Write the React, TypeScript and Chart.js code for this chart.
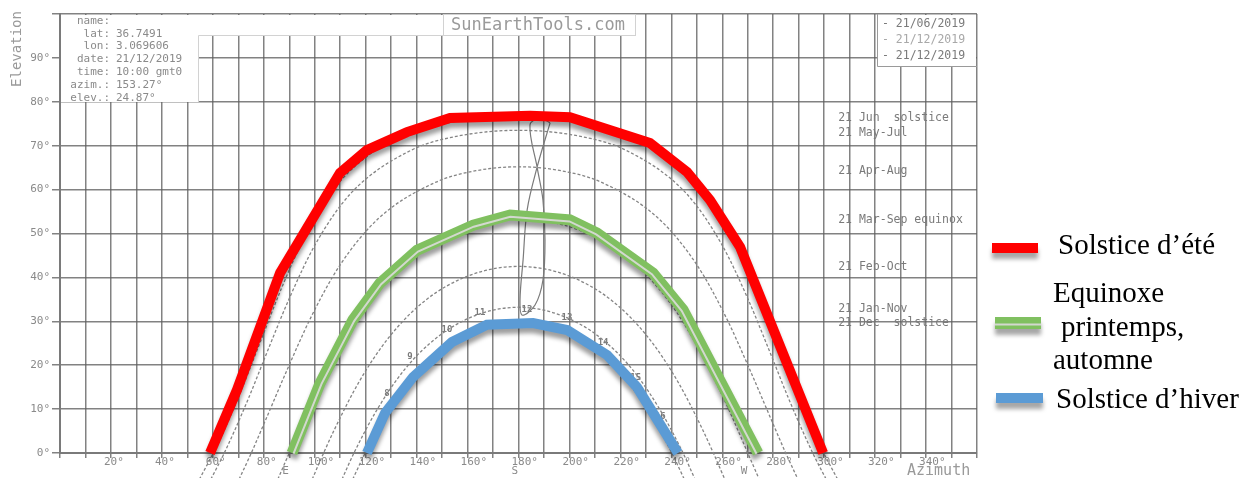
import React, { useEffect, useRef } from 'react';
import { Chart, registerables } from 'chart.js';
Chart.register(...registerables);

const W = 1251;
const H = 478;

// ---- coloured overlay paths (azimuth °, elevation °) ----
const summerAz = [58.9, 69.5, 86.4, 109.9, 120.5, 136.2, 153.1, 184.5, 200.2, 231.6, 246.2, 255.2, 267.0, 299.6];
const summerEl = [0, 14.4, 41.0, 63.8, 69.0, 73.1, 76.3, 76.8, 76.5, 70.6, 64.0, 57.6, 46.9, 0];
const equinoxAz = [91.1, 102.1, 115.0, 125.6, 140.2, 162.2, 176.7, 200.2, 210.8, 232.8, 244.6, 274.0];
const equinoxEl = [0, 15.9, 30.3, 38.7, 46.2, 51.9, 54.2, 53.1, 50.1, 41.0, 32.6, 0];
const winterAz = [120.5, 127.6, 138.6, 153.9, 167.6, 185.7, 199.1, 214.8, 226.5, 242.6];
const winterEl = [0, 9.1, 17.3, 25.3, 29.2, 29.6, 28.0, 22.3, 15.0, 0];

// ---- underlying sun paths of the 21st of each month pair ----
const dayJun: [number, number][] = [[54.7, -6], [60.2, 0], [62.5, 2.7], [70.8, 13.8], [78.7, 25.4], [86.8, 37.3], [96.1, 49.3], [108.8, 61.0], [118.2, 66.5], [131.8, 71.5], [152.1, 75.2], [180, 76.7], [207.9, 75.2], [228.2, 71.5], [241.8, 66.5], [251.2, 61.0], [263.9, 49.3], [273.2, 37.3], [281.3, 25.4], [289.2, 13.8], [297.5, 2.7], [299.8, 0], [305.3, -6]];
const dayMayJul: [number, number][] = [[59.2, -6], [64.5, 0], [73.6, 11.9], [81.8, 23.7], [90.3, 35.6], [100.3, 47.6], [114.1, 59.1], [137.6, 68.9], [156.3, 72.2], [180, 73.5], [203.7, 72.2], [222.4, 68.9], [245.9, 59.1], [259.7, 47.6], [269.7, 35.6], [278.2, 23.7], [286.4, 11.9], [295.5, 0], [300.8, -6]];
const dayAprAug: [number, number][] = [[70.3, -6], [75.1, 0], [80.4, 7.1], [89.2, 19.0], [98.6, 31.0], [109.8, 42.7], [125.0, 53.4], [147.6, 61.7], [163.3, 64.3], [180, 65.2], [196.7, 64.3], [212.4, 61.7], [235.0, 53.4], [250.2, 42.7], [261.4, 31.0], [270.8, 19.0], [279.6, 7.1], [284.9, 0], [289.7, -6]];
const dayEquinox: [number, number][] = [[85.5, -6], [90, 0], [99.1, 12.0], [109.1, 23.6], [120.9, 34.5], [136.0, 43.9], [155.9, 50.7], [180, 53.3], [204.1, 50.7], [224.0, 43.9], [239.1, 34.5], [250.9, 23.6], [260.9, 12.0], [270, 0], [274.5, -6]];
const dayFebOct: [number, number][] = [[99.0, -6], [103.5, 0], [107.7, 5.3], [117.6, 16.4], [129.2, 26.4], [143.3, 34.7], [160.5, 40.4], [180, 42.5], [199.5, 40.4], [216.7, 34.7], [230.8, 26.4], [242.4, 16.4], [252.3, 5.3], [256.5, 0], [261.0, -6]];
const dayJanNov: [number, number][] = [[110.7, -6], [115.4, 0], [124.4, 9.8], [135.4, 19.1], [148.4, 26.5], [163.5, 31.4], [180, 33.2], [196.5, 31.4], [211.6, 26.5], [224.6, 19.1], [235.6, 9.8], [244.6, 0], [249.3, -6]];
const dayDec: [number, number][] = [[114.9, -6], [119.8, 0], [126.7, 7.5], [137.5, 16.4], [150.0, 23.5], [164.4, 28.2], [180, 29.8], [195.6, 28.2], [210.0, 23.5], [222.5, 16.4], [233.3, 7.5], [240.2, 0], [245.1, -6]];

// 12:00 analemma (figure of eight)
const analemma: [number, number][] = [[192.4, 75.2], [187.3, 65.1], [183.4, 55.4], [181.8, 44.0], [180.6, 34.9], [181.4, 31.4], [186.5, 33.7], [189.6, 39.4], [190.4, 48.5], [189.6, 57.6], [187.3, 65.1], [184.5, 74.7], [188.5, 76.3], [192.4, 75.2]];

// ---- texts ----
const infoLabels = ['name:', 'lat:', 'lon:', 'date:', 'time:', 'azim.:', 'elev.:'];
const infoValues = ['', '36.7491', '3.069606', '21/12/2019', '10:00 gmt0', '153.27°', '24.87°'];
const topLegend = ['- 21/06/2019', '- 21/12/2019', '- 21/12/2019'];
const dayLabels = ['21 Jun  solstice', '21 May-Jul', '21 Apr-Aug', '21 Mar-Sep equinox', '21 Feb-Oct', '21 Jan-Nov', '21 Dec  solstice'];
const dayLabelEl = [76.2, 73.0, 64.3, 53.1, 42.4, 32.8, 29.5];
const hourLabels = ['8', '9', '10', '11', '12', '13', '14', '15', '16'];
const hourLabelAz = [128.4, 137.4, 151.9, 164.9, 183.3, 199.0, 213.2, 226.0, 235.6];
const hourLabelEl = [13.6, 21.9, 28.0, 31.9, 32.6, 30.8, 25.1, 17.1, 8.2];
const legendNames = ['Solstice d\u2019été', 'Equinoxe', 'printemps,', 'automne', 'Solstice d\u2019hiver'];

const RED = '#ff0000';
const GREEN = '#80c060';
const BLUE = '#5b9bd5';
const GRID = 'rgba(95,95,95,0.78)';
const MONO = '"DejaVu Sans Mono", "Liberation Mono", monospace';
const SERIF = '"Liberation Serif", "Times New Roman", serif';

const toPts = (az: number[], el: number[]) => az.map((a, i) => ({ x: a, y: el[i] }));
const pairPts = (p: [number, number][]) => p.map(([x, y]) => ({ x, y }));

function xLabel(v: number): string | string[] {
  if (v === 90) return ['', 'E'];
  if (v === 180) return ['180°', 'S'];
  if (v === 270) return ['', 'W'];
  if (v % 20 === 0 && v > 0 && v < 360) return v + '°';
  return '';
}

function drawStripe(ctx: CanvasRenderingContext2D, pts: { x: number; y: number }[], offset: number, color: string, width: number) {
  ctx.save();
  ctx.beginPath();
  for (let i = 0; i < pts.length; i++) {
    const p = pts[i];
    let nx = 0, ny = 0;
    const segN: [number, number][] = [];
    if (i > 0) {
      const dx = p.x - pts[i - 1].x, dy = p.y - pts[i - 1].y;
      const l = Math.hypot(dx, dy) || 1;
      segN.push([-dy / l, dx / l]);
    }
    if (i < pts.length - 1) {
      const dx = pts[i + 1].x - p.x, dy = pts[i + 1].y - p.y;
      const l = Math.hypot(dx, dy) || 1;
      segN.push([-dy / l, dx / l]);
    }
    segN.forEach(([a, b]) => { nx += a; ny += b; });
    const nl = Math.hypot(nx, ny) || 1;
    nx /= nl; ny /= nl;
    const dot = Math.max(0.5, nx * segN[0][0] + ny * segN[0][1]);
    const x = p.x + (nx * offset) / dot;
    const y = p.y + (ny * offset) / dot;
    if (i === 0) ctx.moveTo(x, y); else ctx.lineTo(x, y);
  }
  ctx.strokeStyle = color;
  ctx.lineWidth = width;
  ctx.lineCap = 'butt';
  ctx.lineJoin = 'miter';
  ctx.stroke();
  ctx.restore();
}

const overlayPlugin = {
  id: 'overlayPlugin',
  beforeDatasetsDraw(chart: any) {
    const ctx: CanvasRenderingContext2D = chart.ctx;
    const xs = chart.scales.x, ys = chart.scales.y;
    ctx.save();
    // white panels of the original chart
    ctx.fillStyle = '#ffffff';
    ctx.fillRect(61, 15, 137, 87);
    ctx.fillRect(198, 15, 438, 20);
    ctx.fillRect(878, 15, 98, 51);
    ctx.strokeStyle = '#d2d2d2';
    ctx.lineWidth = 1;
    ctx.beginPath();
    ctx.moveTo(198.5, 102); ctx.lineTo(198.5, 35.5); ctx.lineTo(443, 35.5);
    ctx.stroke();
    ctx.strokeRect(443.5, 14.5, 192, 21);
    ctx.strokeStyle = '#9a9a9a';
    ctx.beginPath();
    ctx.moveTo(877.5, 14); ctx.lineTo(877.5, 66.5); ctx.lineTo(977, 66.5);
    ctx.stroke();

    // info text
    ctx.font = '11px ' + MONO;
    ctx.fillStyle = '#8a8a8a';
    ctx.textBaseline = 'middle';
    infoLabels.forEach((t, i) => {
      const y = 21 + i * 12.8;
      ctx.textAlign = 'right';
      ctx.fillText(t, 110, y);
      ctx.textAlign = 'left';
      ctx.fillText(infoValues[i], 116, y);
    });
    // site title
    ctx.font = '17px ' + MONO;
    ctx.fillStyle = '#9a9a9a';
    ctx.textAlign = 'center';
    ctx.fillText('SunEarthTools.com', 538, 26);
    // top-right legend
    ctx.font = '11.5px ' + MONO;
    ctx.textAlign = 'left';
    const tlc = ['#7a7a7a', '#a8a8a8', '#7a7a7a'];
    topLegend.forEach((t, i) => {
      ctx.fillStyle = tlc[i];
      ctx.fillText(t, 882, 24 + i * 16);
    });
    // day labels on the right
    ctx.font = '11.5px ' + MONO;
    ctx.fillStyle = '#7a7a7a';
    dayLabels.forEach((t, i) => {
      ctx.fillText(t, xs.getPixelForValue(305.5), ys.getPixelForValue(dayLabelEl[i]));
    });
    // hour labels
    ctx.font = 'bold 9px ' + MONO;
    ctx.fillStyle = '#7a7a7a';
    ctx.textAlign = 'center';
    hourLabels.forEach((t, i) => {
      ctx.fillText(t, xs.getPixelForValue(hourLabelAz[i]), ys.getPixelForValue(hourLabelEl[i]));
    });
    ctx.restore();
  },
  beforeDatasetDraw(chart: any, args: any) {
    const d = chart.data.datasets[args.index];
    if (d.shadow) {
      const ctx: CanvasRenderingContext2D = chart.ctx;
      ctx.save();
      ctx.shadowColor = 'rgba(0,0,0,0.38)';
      ctx.shadowBlur = 4;
      ctx.shadowOffsetX = 0;
      ctx.shadowOffsetY = 5;
    }
  },
  afterDatasetDraw(chart: any, args: any) {
    const d = chart.data.datasets[args.index];
    if (d.shadow) chart.ctx.restore();
    if (d.stripe) {
      const pts = args.meta.data.map((e: any) => ({ x: e.x, y: e.y }));
      drawStripe(chart.ctx, pts, 1.6, '#d3d8cf', 2);
    }
  },
  afterDraw(chart: any) {
    const ctx: CanvasRenderingContext2D = chart.ctx;
    ctx.save();
    // axis titles
    ctx.fillStyle = '#9a9a9a';
    ctx.font = '14px ' + MONO;
    ctx.textAlign = 'center';
    ctx.textBaseline = 'middle';
    ctx.translate(17, 49);
    ctx.rotate(-Math.PI / 2);
    ctx.fillText('Elevation', 0, 0);
    ctx.setTransform(1, 0, 0, 1, 0, 0);
    ctx.font = '15px ' + MONO;
    ctx.textAlign = 'left';
    ctx.fillText('Azimuth', 907, 471);

    // outer legend
    const bar = (x: number, y: number, w: number, h: number, c: string) => {
      ctx.save();
      ctx.shadowColor = 'rgba(0,0,0,0.35)';
      ctx.shadowBlur = 4;
      ctx.shadowOffsetY = 6;
      ctx.fillStyle = c;
      ctx.fillRect(x, y, w, h);
      ctx.restore();
    };
    bar(992, 243, 46, 10, RED);
    bar(995, 317, 46, 12, GREEN);
    ctx.fillStyle = '#d3d8cf';
    ctx.fillRect(995, 323.5, 46, 2);
    bar(996, 393, 47, 10, BLUE);

    ctx.fillStyle = '#000';
    ctx.font = '29px ' + SERIF;
    ctx.textAlign = 'left';
    ctx.textBaseline = 'alphabetic';
    ctx.fillText(legendNames[0], 1058, 254);
    ctx.fillText(legendNames[1], 1053, 302);
    ctx.fillText(legendNames[2], 1061, 336);
    ctx.fillText(legendNames[3], 1053, 369);
    ctx.fillText(legendNames[4], 1056, 408);
    ctx.restore();
  },
};

const dayStyle = {
  borderColor: '#858585',
  borderWidth: 1.3,
  borderDash: [3, 2],
  pointRadius: 0,
  cubicInterpolationMode: 'monotone' as const,
  clip: false as const,
  order: 5,
};

export default function App() {
  const ref = useRef<HTMLCanvasElement>(null);
  useEffect(() => {
    if (!ref.current) return;
    const chart = new Chart(ref.current, {
      type: 'line',
      data: {
        datasets: [
          { label: 'summer', data: toPts(summerAz, summerEl), borderColor: RED, borderWidth: 10, pointRadius: 0, tension: 0, clip: false, order: 0, borderCapStyle: 'butt', shadow: true } as any,
          { label: 'equinox', data: toPts(equinoxAz, equinoxEl), borderColor: GREEN, borderWidth: 11, pointRadius: 0, tension: 0, clip: false, order: 0, borderCapStyle: 'butt', shadow: true, stripe: true } as any,
          { label: 'winter', data: toPts(winterAz, winterEl), borderColor: BLUE, borderWidth: 10, pointRadius: 0, tension: 0, clip: false, order: 0, borderCapStyle: 'butt', shadow: true } as any,
          { label: 'Jun', data: pairPts(dayJun), ...dayStyle },
          { label: 'May-Jul', data: pairPts(dayMayJul), ...dayStyle },
          { label: 'Apr-Aug', data: pairPts(dayAprAug), ...dayStyle },
          { label: 'Mar-Sep', data: pairPts(dayEquinox), ...dayStyle },
          { label: 'Feb-Oct', data: pairPts(dayFebOct), ...dayStyle },
          { label: 'Jan-Nov', data: pairPts(dayJanNov), ...dayStyle },
          { label: 'Dec', data: pairPts(dayDec), ...dayStyle },
          { label: '12h', data: pairPts(analemma), borderColor: '#7a7a7a', borderWidth: 1.2, pointRadius: 0, tension: 0.35, clip: false, order: 4 } as any,
        ],
      },
      options: {
        animation: false,
        responsive: false,
        maintainAspectRatio: false,
        layout: { padding: { top: 14, right: 274, left: 0, bottom: 0 } },
        plugins: { legend: { display: false }, tooltip: { enabled: false }, title: { display: false } },
        scales: {
          x: {
            type: 'linear',
            min: 0,
            max: 360,
            afterFit: (s: any) => { s.height = 25; },
            ticks: {
              stepSize: 10,
              autoSkip: false,
              maxRotation: 0,
              minRotation: 0,
              align: 'start',
              labelOffset: -7,
              padding: 0,
              color: '#8a8a8a',
              font: { family: MONO, size: 11, lineHeight: 0.8 },
              callback: (v: any) => xLabel(Number(v)),
            },
            grid: { color: GRID, lineWidth: 1.5, tickLength: 5, drawTicks: true },
            border: { color: '#7a7a7a', width: 2 },
          },
          y: {
            type: 'linear',
            min: 0,
            max: 100,
            afterFit: (s: any) => { s.width = 60; },
            ticks: {
              stepSize: 10,
              padding: 2,
              color: '#8a8a8a',
              font: { family: MONO, size: 11 },
              callback: (v: any) => (Number(v) === 100 ? '' : v + '°'),
            },
            grid: { color: GRID, lineWidth: 1.5, tickLength: 8, drawTicks: true },
            border: { color: '#7a7a7a', width: 2 },
          },
        },
      } as any,
      plugins: [overlayPlugin as any],
    });
    return () => chart.destroy();
  }, []);
  return (
    <div style={{ position: 'fixed', left: 0, top: 0, width: W, height: H, background: '#fff' }}>
      <canvas ref={ref} width={W} height={H} style={{ display: 'block', width: W, height: H }} />
    </div>
  );
}
